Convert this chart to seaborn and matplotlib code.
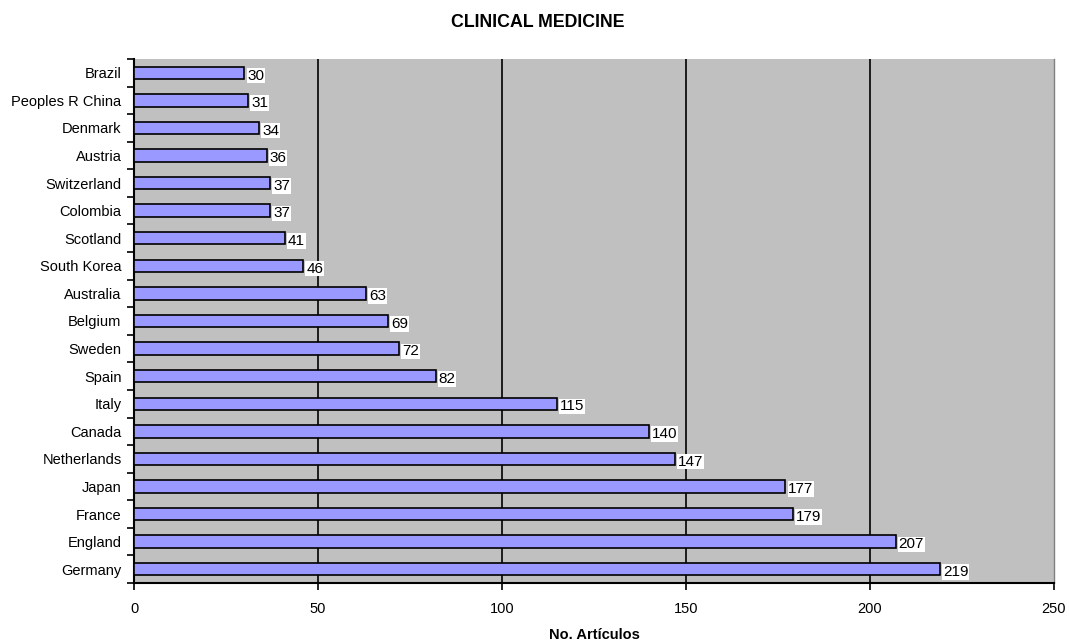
import pandas as pd
import matplotlib
matplotlib.use("Agg")
import matplotlib.pyplot as plt
import seaborn as sns

countries = ["Brazil", "Peoples R China", "Denmark", "Austria", "Switzerland", "Colombia",
             "Scotland", "South Korea", "Australia", "Belgium", "Sweden", "Spain", "Italy",
             "Canada", "Netherlands", "Japan", "France", "England", "Germany"]
articles = [30, 31, 34, 36, 37, 37, 41, 46, 63, 69, 72, 82, 115, 140, 147, 177, 179, 207, 219]
x_ticks = [0, 50, 100, 150, 200, 250]

df = pd.DataFrame({"country": countries, "articles": articles})

sns.set_style("white")
plt.rcParams["font.family"] = ["Liberation Sans", "DejaVu Sans"]
plt.rcParams["text.color"] = "black"
plt.rcParams["xtick.color"] = "black"
plt.rcParams["ytick.color"] = "black"
plt.rcParams["axes.labelcolor"] = "black"

fig = plt.figure(figsize=(10.69, 6.41), dpi=100)
ax = fig.add_axes([0.1254, 0.0905, 0.8605, 0.8175])
ax.set_facecolor("#c0c0c0")

sns.barplot(data=df, y="country", x="articles", orient="h", color="#9999ff",
            edgecolor="black", linewidth=1.2, width=0.45, saturation=1, ax=ax, zorder=3)

# vertical gridlines
for t in x_ticks[1:-1]:
    ax.axvline(t, color="black", linewidth=1.2, zorder=1)

# value labels
for i, v in enumerate(articles):
    ax.text(v + 0.8, i + 0.1, str(v), va="center", ha="left", fontsize=11,
            bbox=dict(facecolor="white", edgecolor="none", pad=0.6), zorder=4)

ax.set_xlim(0, 250)
ax.set_ylim(len(countries) - 0.5, -0.5)
ax.set_xticks(x_ticks)
ax.set_xticklabels([str(t) for t in x_ticks], fontsize=10.5)
ax.set_yticks(range(len(countries)))
ax.set_yticklabels(countries, fontsize=10.5)
ax.tick_params(axis="y", length=0, pad=9)
ax.tick_params(axis="x", length=5, width=1.2, direction="out", pad=9, bottom=True)

# minor ticks between categories on the y axis
ax.set_yticks([i - 0.5 for i in range(len(countries) + 1)], minor=True)
ax.tick_params(axis="y", which="minor", length=5, width=1.2, direction="out", left=True)

for side in ["left", "bottom"]:
    ax.spines[side].set_color("black")
    ax.spines[side].set_linewidth(1.5)
ax.spines["right"].set_color("#808080")
ax.spines["right"].set_linewidth(1)
ax.spines["top"].set_visible(False)

ax.set_xlabel("No. Artículos", fontsize=10.5, fontweight="bold", labelpad=8)
ax.set_ylabel("")
fig.suptitle("CLINICAL MEDICINE", fontsize=12.8, fontweight="bold", x=0.503, y=0.978)

fig.savefig("out.png", dpi=100)
